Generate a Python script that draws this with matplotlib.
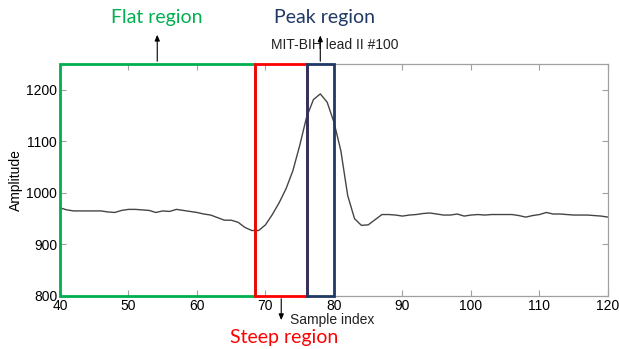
import numpy as np
import matplotlib
matplotlib.use("Agg")
import matplotlib.pyplot as plt
from matplotlib.patches import Rectangle

# MIT-BIH record 100, lead II, samples 40..120
sample_index = list(range(40, 121))
amplitude = [971, 967, 965, 965, 965, 965, 965, 963, 962, 966,
             968, 968, 967, 966, 962, 965, 964, 968, 966, 964,
             962, 959, 957, 952, 947, 947, 943, 933, 927, 927,
             938, 958, 981, 1008, 1043, 1092, 1147, 1181, 1192, 1176,
             1137, 1082, 995, 950, 937, 938, 948, 958, 958, 957,
             955, 957, 958, 960, 961, 959, 957, 957, 959, 955,
             957, 958, 957, 958, 958, 958, 958, 956, 953, 956,
             958, 962, 959, 959, 958, 957, 957, 957, 956, 955,
             953]

# region bounds in sample index
region_names = ["Flat region", "Steep region", "Peak region"]
region_start = [40, 68.5, 76]
region_end = [68.5, 76, 80]
region_colors = ["#00B050", "#FF0000", "#203864"]

plt.rcParams['font.family'] = ['Liberation Sans', 'DejaVu Sans']
plt.rcParams['font.size'] = 10

fig = plt.figure(figsize=(6.19, 3.49), dpi=100)
ax = fig.add_axes([0.0969, 0.1519, 0.8853, 0.6647])

ax.plot(sample_index, amplitude, color="#454545", lw=1.0, zorder=2)
ax.set_xlim(40, 120)
ax.set_ylim(800, 1250)
ax.set_xticks(range(40, 121, 10))
ax.set_yticks(range(800, 1201, 100))
ax.tick_params(direction='in', length=4, color='#a0a0a0', top=True, right=True,
               labelsize=10, pad=2)
for s in ax.spines.values():
    s.set_color('#a0a0a0')
    s.set_linewidth(0.9)

ax.set_ylabel("Amplitude", fontsize=10, labelpad=2)

for x0, x1, c in zip(region_start, region_end, region_colors):
    ax.add_patch(Rectangle((x0, 800), x1 - x0, 450, fill=False, edgecolor=c,
                           lw=2, clip_on=False, zorder=3))

ax.text(0.54, 0.871, "MIT-BIH lead II #100", transform=fig.transFigure,
        ha='center', va='center', fontsize=10, color='#222222')
ax.text(0.468, 0.083, "Sample index", transform=fig.transFigure,
        ha='left', va='center', fontsize=10, color='#222222')

tr = ax.get_xaxis_transform()
arrow = dict(arrowstyle='-|>,head_length=0.35,head_width=0.15', color='black', lw=0.8)
ax.annotate('', xy=(54.2, 1.138), xytext=(54.2, 1.0), xycoords=tr, textcoords=tr,
            arrowprops=arrow, annotation_clip=False)
ax.annotate('', xy=(78.0, 1.135), xytext=(78.0, 1.0), xycoords=tr, textcoords=tr,
            arrowprops=arrow, annotation_clip=False)
ax.annotate('', xy=(72.3, -0.116), xytext=(72.3, 0.0), xycoords=tr, textcoords=tr,
            arrowprops=arrow, annotation_clip=False)

lab_font = ['Lato', 'DejaVu Sans']
fig.text(0.254, 0.951, region_names[0], ha='center', va='center', fontsize=14,
         color=region_colors[0], family=lab_font)
fig.text(0.525, 0.951, region_names[2], ha='center', va='center', fontsize=14,
         color=region_colors[2], family=lab_font)
fig.text(0.459, 0.032, region_names[1], ha='center', va='center', fontsize=14,
         color=region_colors[1], family=lab_font)

fig.savefig("out.png", dpi=100)
